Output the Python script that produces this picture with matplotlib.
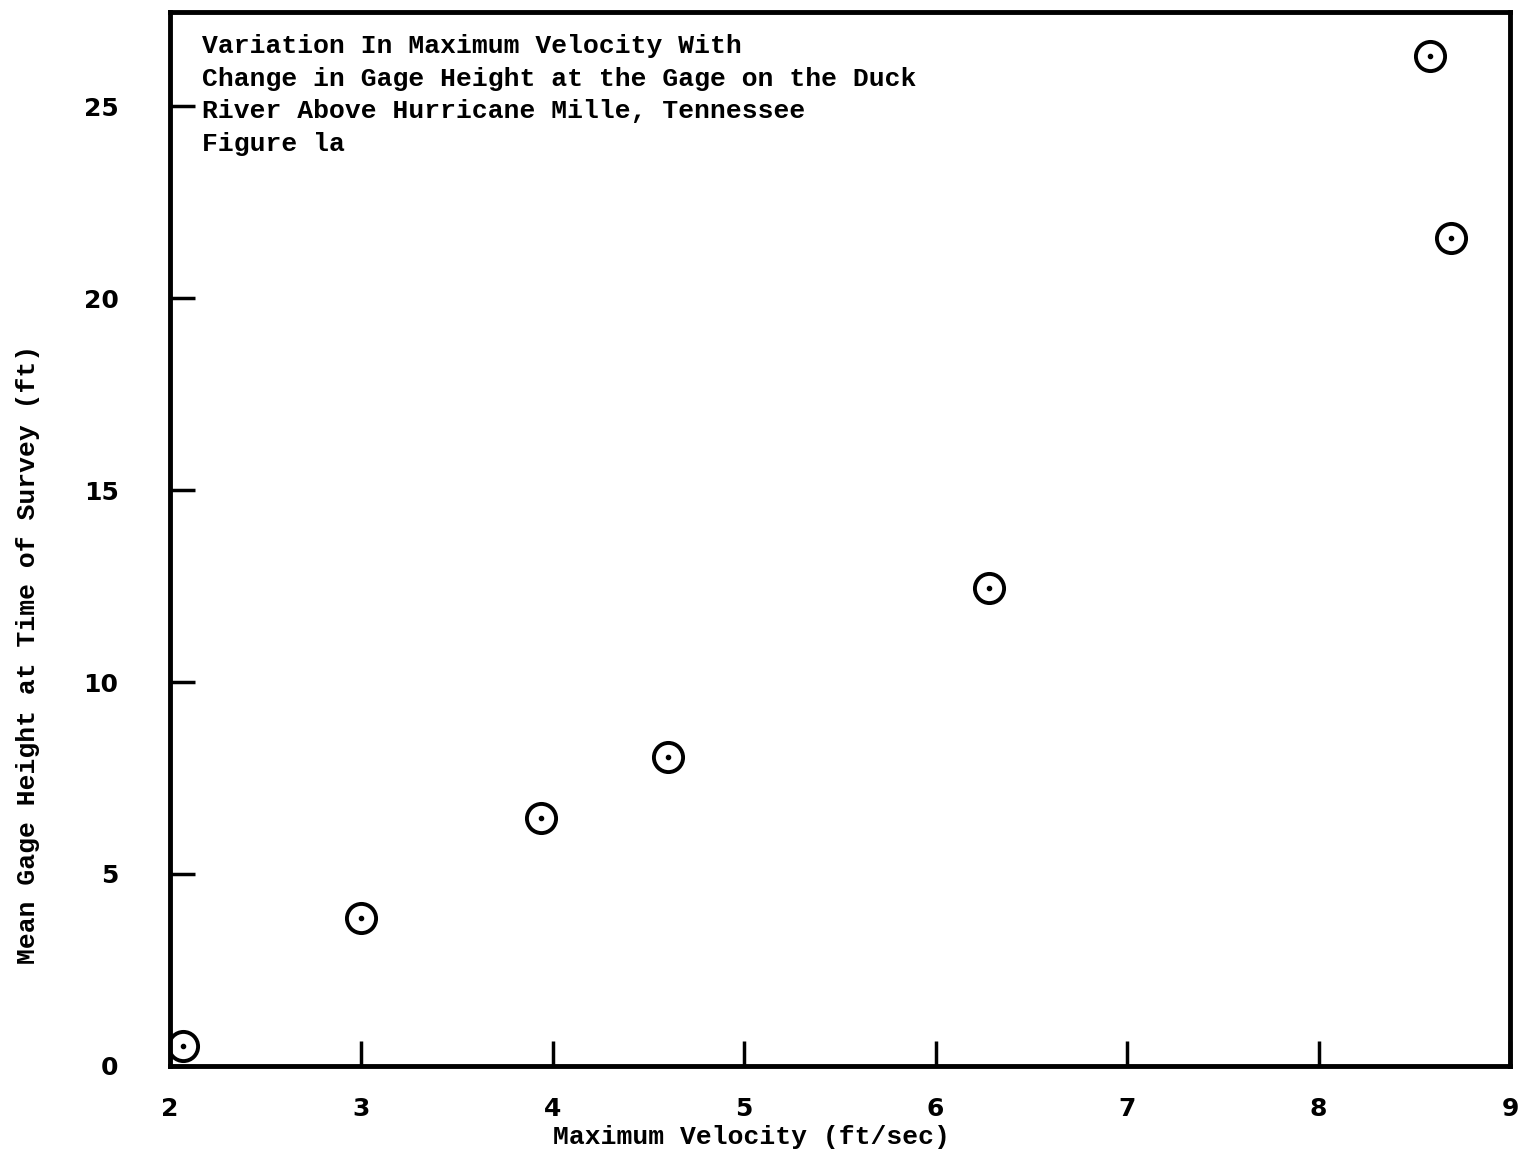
import matplotlib
matplotlib.use("Agg")
import matplotlib.pyplot as plt

# max velocity (ft/sec) vs mean gage height (ft)
velocity = [2.07, 3.00, 3.94, 4.60, 6.28, 8.58, 8.69]
gage_height = [0.52, 3.85, 6.45, 8.04, 12.46, 26.3, 21.57]

x_ticks = [2, 3, 4, 5, 6, 7, 8, 9]
y_ticks = [0, 5, 10, 15, 20, 25]

title_lines = ["Variation In Maximum Velocity With",
               "Change in Gage Height at the Gage on the Duck",
               "River Above Hurricane Mille, Tennessee",
               "Figure la"]

mono = "Liberation Mono"

fig = plt.figure(figsize=(15.2, 11.56), dpi=100)
ax = fig.add_axes([0.1118, 0.0779, 0.8816, 0.9117])

ax.plot(velocity, gage_height, linestyle="none", marker="o", markersize=21,
        markerfacecolor="white", markeredgecolor="black", markeredgewidth=2.8)
ax.plot(velocity, gage_height, linestyle="none", marker="o", markersize=3,
        color="black")

ax.set_xlim(2, 9)
ax.set_ylim(0, 27.45)
ax.set_xticks(x_ticks)
ax.set_yticks(y_ticks)
ax.tick_params(direction="in", length=18, width=2.5, labelsize=18)
ax.tick_params(axis="x", pad=22)
ax.tick_params(axis="y", pad=37)
for lab in ax.get_xticklabels() + ax.get_yticklabels():
    lab.set_fontweight("bold")

for s in ax.spines.values():
    s.set_linewidth(3.5)

ax.set_xlabel("Maximum Velocity (ft/sec)", fontfamily=mono, fontweight="bold",
              fontsize=19)
ax.xaxis.set_label_coords(0.4336, -0.056)
ax.set_ylabel("Mean Gage Height at Time of Survey (ft)", fontfamily=mono,
              fontweight="bold", fontsize=19)
ax.yaxis.set_label_coords(-0.097, 0.39)

ax.text(0.024, 0.979, "\n".join(title_lines), transform=ax.transAxes,
        fontfamily=mono, fontweight="bold", fontsize=19, va="top", ha="left",
        linespacing=1.45)

fig.savefig("out.png", dpi=100)
